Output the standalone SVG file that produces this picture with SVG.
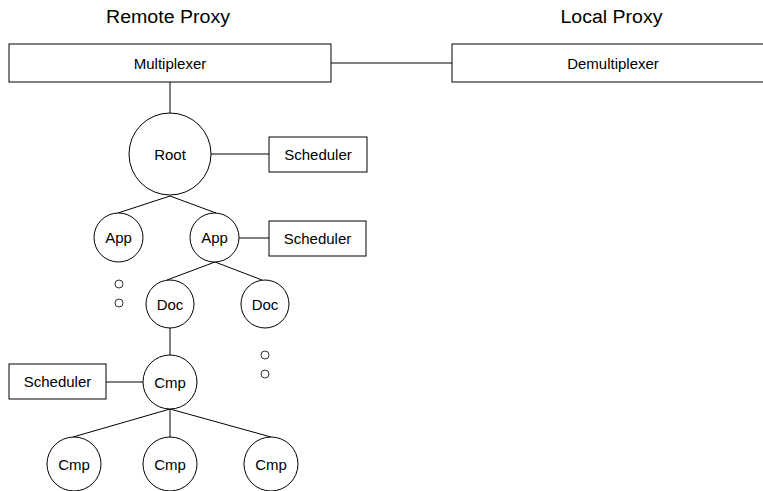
<svg xmlns="http://www.w3.org/2000/svg" width="763" height="491" viewBox="0 0 763 491">
<style>
.bg{fill:#fff}
.box{fill:#fff;stroke:#000;stroke-width:1}
.node{fill:#fff;stroke:#000;stroke-width:1}
.dot{fill:#fff;stroke:#000;stroke-width:0.8}
.edge{stroke:#000;stroke-width:1;fill:none}
text{font-family:"Liberation Sans",Arial,sans-serif;fill:#000;text-anchor:middle}
.title{font-size:18px}
.lbl{font-size:15px}
.nl{font-size:15px}
</style>
<rect class="bg" x="0" y="0" width="763" height="491"/>
<g id="connectors">
<line class="edge" x1="331" y1="63" x2="452" y2="63"/>
<line class="edge" x1="170" y1="82" x2="170" y2="113"/>
<line class="edge" x1="211" y1="154" x2="269" y2="154"/>
<line class="edge" x1="170" y1="196" x2="118" y2="213"/>
<line class="edge" x1="170" y1="196" x2="216" y2="213"/>
<line class="edge" x1="239" y1="238" x2="269" y2="238"/>
<line class="edge" x1="215" y1="262" x2="167" y2="280"/>
<line class="edge" x1="215" y1="262" x2="262" y2="280"/>
<line class="edge" x1="170" y1="328" x2="170" y2="355"/>
<line class="edge" x1="106" y1="382" x2="143" y2="382"/>
<line class="edge" x1="170" y1="409" x2="73" y2="437"/>
<line class="edge" x1="170" y1="409" x2="170" y2="437"/>
<line class="edge" x1="170" y1="409" x2="271" y2="437"/>
</g>
<g id="title-remote"><text class="title" x="168" y="23" textLength="124" lengthAdjust="spacingAndGlyphs">Remote Proxy</text></g>
<g id="title-local"><text class="title" x="611.5" y="23" textLength="102" lengthAdjust="spacingAndGlyphs">Local Proxy</text></g>
<g id="multiplexer"><rect class="box" x="9" y="44" width="322" height="38"/><text class="lbl" x="170" y="68.5">Multiplexer</text></g>
<g id="demultiplexer"><rect class="box" x="452" y="44" width="322" height="38"/><text class="lbl" x="613" y="68.5">Demultiplexer</text></g>
<g id="root"><circle class="node" cx="170" cy="154" r="41"/><text class="nl" x="170" y="159.5">Root</text></g>
<g id="scheduler-root"><rect class="box" x="269" y="137" width="98" height="35"/><text class="nl" x="318" y="160">Scheduler</text></g>
<g id="app-left"><circle class="node" cx="118.5" cy="237.5" r="24.5"/><text class="nl" x="118.5" y="243">App</text></g>
<g id="app-right"><circle class="node" cx="214.5" cy="237.5" r="24.5"/><text class="nl" x="214.5" y="243">App</text></g>
<g id="scheduler-app"><rect class="box" x="269" y="221" width="97" height="35"/><text class="nl" x="317.5" y="244">Scheduler</text></g>
<g id="ellipsis-app"><circle class="dot" cx="119" cy="284" r="4"/><circle class="dot" cx="119" cy="303" r="4"/></g>
<g id="doc-left"><circle class="node" cx="170" cy="304" r="24"/><text class="nl" x="170" y="309.5">Doc</text></g>
<g id="doc-right"><circle class="node" cx="265" cy="304" r="24"/><text class="nl" x="265" y="309.5">Doc</text></g>
<g id="ellipsis-doc"><circle class="dot" cx="265" cy="355" r="4"/><circle class="dot" cx="265" cy="374" r="4"/></g>
<g id="cmp"><circle class="node" cx="170" cy="382" r="27"/><text class="nl" x="170" y="387.5">Cmp</text></g>
<g id="scheduler-cmp"><rect class="box" x="9" y="364" width="97" height="35"/><text class="nl" x="57.5" y="387">Scheduler</text></g>
<g id="cmp-1"><circle class="node" cx="74" cy="464" r="27"/><text class="nl" x="74" y="469.5">Cmp</text></g>
<g id="cmp-2"><circle class="node" cx="170" cy="464" r="27"/><text class="nl" x="170" y="469.5">Cmp</text></g>
<g id="cmp-3"><circle class="node" cx="271" cy="464" r="27"/><text class="nl" x="271" y="469.5">Cmp</text></g>
</svg>
